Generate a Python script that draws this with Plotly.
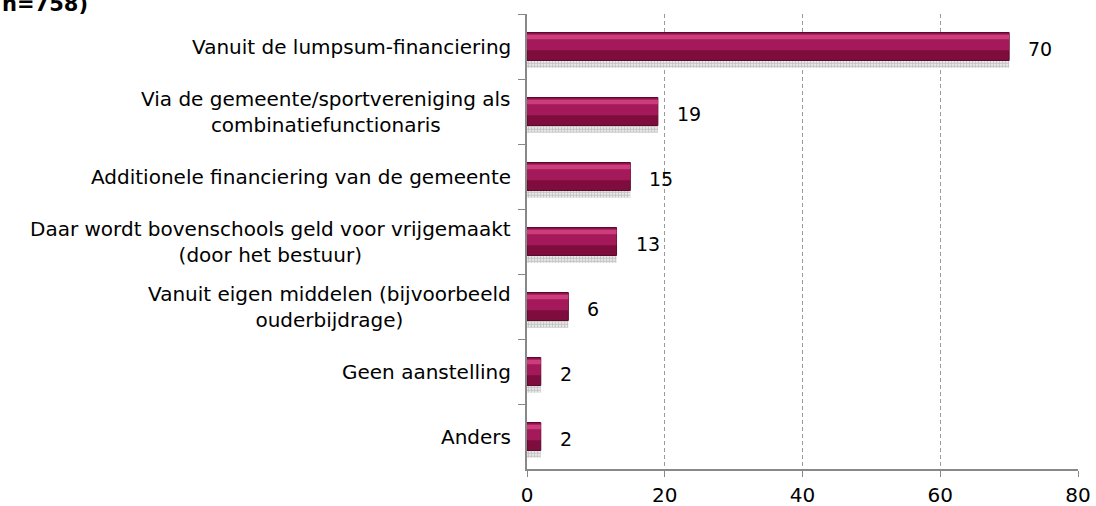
import plotly.graph_objects as go

# Financing of the gym teacher (n=758), percentages
categories = [
    "Vanuit de lumpsum-financiering",
    "Via de gemeente/sportvereniging als<br>combinatiefunctionaris",
    "Additionele financiering van de gemeente",
    "Daar wordt bovenschools geld voor vrijgemaakt<br>(door het bestuur)",
    "Vanuit eigen middelen (bijvoorbeeld<br>ouderbijdrage)",
    "Geen aanstelling",
    "Anders",
]
values = [70, 19, 15, 13, 6, 2, 2]
x_ticks = [0, 20, 40, 60, 80]

FONT = "DejaVu Sans"
BAR_W = 0.43

fig = go.Figure()

# dotted drop shadow below each bar
fig.add_trace(go.Bar(
    x=values, y=categories, orientation="h",
    width=BAR_W, offset=-BAR_W / 2 + 0.11,
    marker=dict(color="white", line_width=0,
                pattern=dict(shape=".", fgcolor="#8a8a8a", bgcolor="white", size=3, solidity=0.7)),
    hoverinfo="skip", showlegend=False,
))
# base (dark bottom of the bar)
fig.add_trace(go.Bar(
    x=values, y=categories, orientation="h",
    width=BAR_W, offset=-BAR_W / 2,
    marker=dict(color="#7e0d3e", line=dict(color="#5a0829", width=1)),
    showlegend=False,
))
# middle tone
fig.add_trace(go.Bar(
    x=values, y=categories, orientation="h",
    width=BAR_W * 0.6, offset=-BAR_W / 2 + 0.015,
    marker=dict(color="#a3195a", line_width=0),
    hoverinfo="skip", showlegend=False,
))
# glossy highlight near the top
fig.add_trace(go.Bar(
    x=values, y=categories, orientation="h",
    width=BAR_W * 0.16, offset=-BAR_W / 2 + 0.035,
    marker=dict(color="#cc3d7c", line_width=0),
    hoverinfo="skip", showlegend=False,
))

# value labels
for cat, v in zip(categories, values):
    fig.add_annotation(x=v, y=cat, text=str(v), showarrow=False,
                       xanchor="left", xshift=17, yshift=-2,
                       font=dict(family=FONT, size=19, color="black"))

# category labels, centred lines
for cat in categories:
    fig.add_annotation(x=0, xref="paper", y=cat, text=cat, showarrow=False,
                       xanchor="right", align="center", xshift=-14,
                       font=dict(family=FONT, size=20, color="black"))

# cut-off title at the top left
fig.add_annotation(x=0, xref="paper", xanchor="left", xshift=-527,
                   y=1, yref="paper", yanchor="bottom", yshift=-4,
                   text="<b>n=758)</b>", showarrow=False,
                   font=dict(family=FONT, size=21, color="black"))

fig.update_layout(
    width=1096, height=506,
    margin=dict(l=527, r=18, t=14, b=37),
    barmode="overlay",
    paper_bgcolor="white", plot_bgcolor="white",
    font=dict(family=FONT, size=20, color="black"),
    xaxis=dict(range=[0, 80], tickvals=x_ticks, showgrid=True,
               gridcolor="#9a9a9a", griddash="4px,3px", gridwidth=1,
               showline=True, linecolor="#888888", linewidth=2,
               ticks="outside", ticklen=6, tickcolor="#888888",
               ticklabelstandoff=1, zeroline=False, automargin=False,
               tickfont=dict(family=FONT, size=20)),
    yaxis=dict(categoryorder="array", categoryarray=categories,
               autorange="reversed", showticklabels=False,
               showline=True, linecolor="#888888", linewidth=2,
               ticks="outside", tickson="boundaries", ticklen=7,
               tickcolor="#888888", showgrid=False, zeroline=False,
               automargin=False),
)

fig.write_html("out.html", config={"displayModeBar": False},
               post_script="document.body.style.margin='0';")
